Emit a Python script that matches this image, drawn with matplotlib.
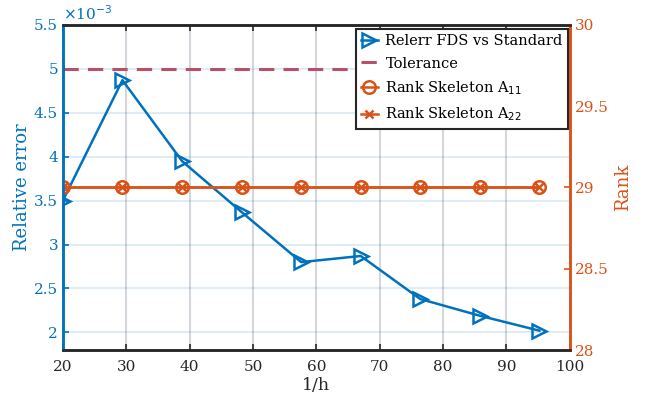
import matplotlib
matplotlib.use("Agg")
import matplotlib.pyplot as plt
import numpy as np

# Datos
inv_h = [20, 29.4, 38.8, 48.2, 57.6, 67.0, 76.4, 85.8, 95.2]
relerr = [3.50, 4.87, 3.95, 3.37, 2.80, 2.87, 2.38, 2.19, 2.02]  # x 1e-3
tol_x = [20, 66]
tol_y = [5.0, 5.0]
rank_a11 = [29] * 9
rank_a22 = [29] * 9

blue = '#0072BD'
orange = '#D95319'
red = '#B8506A'

plt.rcParams['font.family'] = ['DejaVu Serif']
plt.rcParams['font.size'] = 11

fig = plt.figure(figsize=(6.55, 4.07), dpi=100)
ax = fig.add_axes([0.096, 0.140, 0.774, 0.799])
ax2 = ax.twinx()
ax2.patch.set_visible(False)

# Grilla (en el eje de atrás)
ax.set_xticks(np.arange(20, 101, 10))
ax.xaxis.grid(True, color='#d3d6da', linewidth=1.5)
ax.yaxis.grid(True, color=blue, alpha=0.13, linewidth=1.5)
ax.set_axisbelow(True)

h1, = ax.plot(inv_h, relerr, color=blue, marker='>', markersize=10,
              markerfacecolor='none', markeredgewidth=1.8, linewidth=1.8,
              label='Relerr FDS vs Standard')
h2, = ax.plot(tol_x, tol_y, color=red, linestyle=(0, (5, 3)), linewidth=2.2,
              label='Tolerance')
h3, = ax2.plot(inv_h, rank_a11, color=orange, marker='o', markersize=9,
               markerfacecolor='none', markeredgewidth=1.8, linewidth=1.8,
               label='Rank Skeleton A$_{11}$')
h4, = ax2.plot(inv_h, rank_a22, color=orange, marker='x', markersize=6,
               markeredgewidth=1.8, linewidth=1.8, label='Rank Skeleton A$_{22}$')

ax.set_xlim(20, 100)
ax.set_ylim(1.8, 5.5)
ax.set_yticks([2, 2.5, 3, 3.5, 4, 4.5, 5, 5.5])
ax.set_yticklabels(['2', '2.5', '3', '3.5', '4', '4.5', '5', '5.5'])
ax2.set_ylim(28, 30)
ax2.set_yticks([28, 28.5, 29, 29.5, 30])
ax2.set_yticklabels(['28', '28.5', '29', '29.5', '30'])

ax.set_xlabel('1/h', color='#262626', fontsize=12.5, labelpad=2)
ax.set_ylabel('Relative error', color=blue, fontsize=13, labelpad=2)
ax2.set_ylabel('Rank', color=orange, fontsize=13)

ax.tick_params(axis='x', direction='in', top=True, colors='#262626',
               length=4, width=1.2, pad=7)
ax.tick_params(axis='y', direction='in', colors=blue, length=4, width=1.2)
ax2.tick_params(axis='y', direction='in', colors=orange, length=4, width=1.2)

for a in (ax, ax2):
    a.spines['top'].set_color('#262626')
    a.spines['bottom'].set_color('#262626')
    a.spines['left'].set_color(blue)
    a.spines['right'].set_color(orange)
    for s in a.spines.values():
        s.set_linewidth(1.8)

ax.text(0.0, 1.005, r'$\times$10$^{-3}$', transform=ax.transAxes,
        color=blue, fontsize=11, ha='left', va='bottom')

leg = ax2.legend(handles=[h1, h2, h3, h4], loc='upper right',
                 bbox_to_anchor=(0.996, 0.988), borderaxespad=0,
                 frameon=True, fancybox=False, framealpha=1,
                 edgecolor='#262626', handlelength=1.2, handletextpad=0.5,
                 borderpad=0.35, labelspacing=0.6, fontsize=10.5)
leg.get_frame().set_linewidth(1.5)

fig.savefig('out.png', dpi=100)
